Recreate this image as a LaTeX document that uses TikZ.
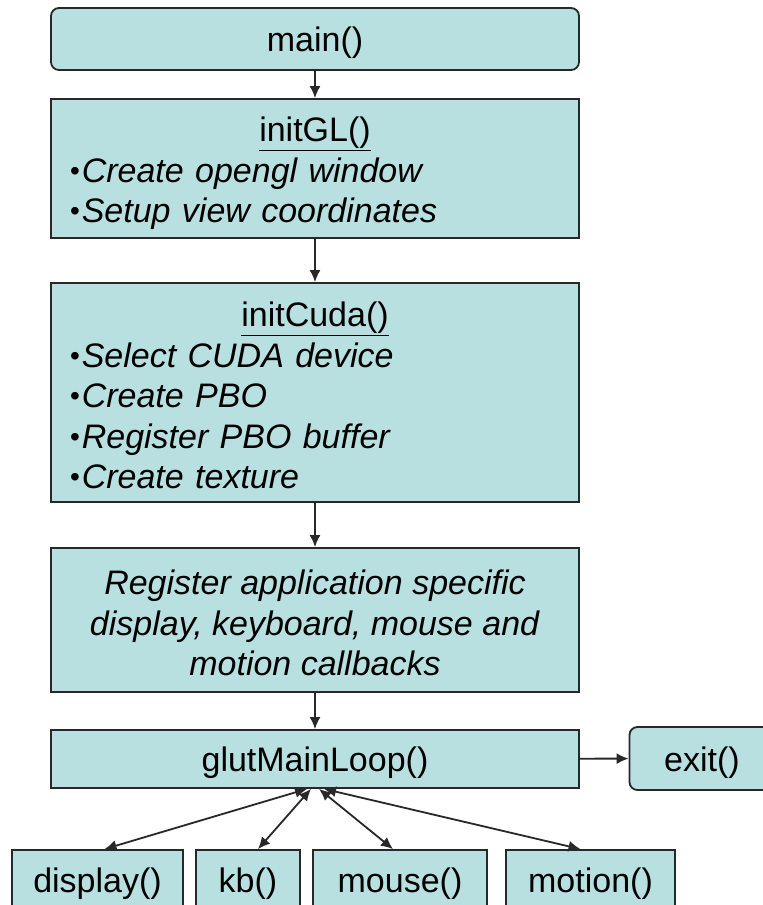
\documentclass[tikz,border=0pt]{standalone}
\usepackage{fontspec}
\setmainfont{Liberation Sans}
\usetikzlibrary{arrows.meta,calc}
\definecolor{boxfill}{RGB}{184,224,224}
\definecolor{edge}{RGB}{40,40,40}
% small bullet in front of each list item
\newcommand{\itembullet}{\hspace*{2pt}{\fontsize{28}{28}\selectfont\raisebox{2pt}{\textbullet}}\hspace{2pt}}
\begin{document}
\begin{tikzpicture}[x=1pt,y=-1pt,
  box/.style={draw=edge, line width=1.8pt, fill=boxfill, inner sep=0pt,
    font=\fontsize{34}{40.5}\selectfont},
  single/.style={text height=30pt, text depth=5pt},
  roundbox/.style={box, rounded corners=8pt},
  wide/.style={minimum width=528pt},
  listbox/.style={text width=494pt, align=left},
  tip/.style={Latex[length=12pt,width=11pt]},
  flow/.style={draw=edge, line width=1.8pt, -{Latex[length=12pt,width=11pt]}},
  callback/.style={draw=edge, line width=1.8pt,
    {Latex[length=12pt,width=11pt]}-{Latex[length=12pt,width=11pt]}}]
\useasboundingbox (0,0) rectangle (763,905);
\clip (0,0) rectangle (763,905);

% main sequence
\node[roundbox, wide, single, minimum height=62pt] (main) at (315,39) {main()};
\node[box, wide, minimum height=139pt, listbox] (gl) at (315,168.5)
  {\rule{0pt}{35pt}\makebox[494pt]{\underline{initGL()}}\\
   \itembullet\textit{Create opengl window}\\
   \itembullet\textit{Setup view coordinates}};
\node[box, wide, minimum height=219pt, listbox] (cuda) at (315,392.5)
  {\rule{0pt}{31pt}\makebox[494pt]{\underline{initCuda()}}\\
   \itembullet\textit{Select CUDA device}\\
   \itembullet\textit{Create PBO}\\
   \itembullet\textit{Register PBO buffer}\\
   \itembullet\textit{Create texture}};
\node[box, wide, minimum height=144pt, align=center] (reg) at (315,620)
  {\rule{0pt}{31pt}\textit{Register application specific}\\
   \textit{display, keyboard, mouse and}\\
   \textit{motion callbacks}};
\node[box, wide, single, minimum height=58pt] (glut) at (315,759) {glutMainLoop()};
\node[roundbox, single, minimum width=145pt, minimum height=63pt] (exit) at (702,758.5) {exit()};

% callbacks
\node[box, single, minimum width=171pt, minimum height=60pt] (display) at (97.5,880) {display()};
\node[box, single, minimum width=104pt, minimum height=60pt] (kb) at (248,880) {kb()};
\node[box, single, minimum width=174pt, minimum height=60pt] (mouse) at (400,880) {mouse()};
\node[box, single, minimum width=169pt, minimum height=60pt] (motion) at (590.5,880) {motion()};

% control flow
\draw[flow] (main) -- (gl);
\draw[flow] (gl) -- (cuda);
\draw[flow] (cuda) -- (reg);
\draw[flow] (reg) -- (glut);
\draw[flow] (glut) -- (exit);

\draw[callback] ([xshift=-8pt]glut.south) -- ([xshift=7pt]display.north);
\draw[callback] ([xshift=-4pt]glut.south) -- ([xshift=10pt]kb.north);
\draw[callback] ([xshift=4pt]glut.south) -- ([xshift=-7pt]mouse.north);
\draw[callback] ([xshift=9pt]glut.south) -- ([xshift=-10pt]motion.north);
\end{tikzpicture}
\end{document}
